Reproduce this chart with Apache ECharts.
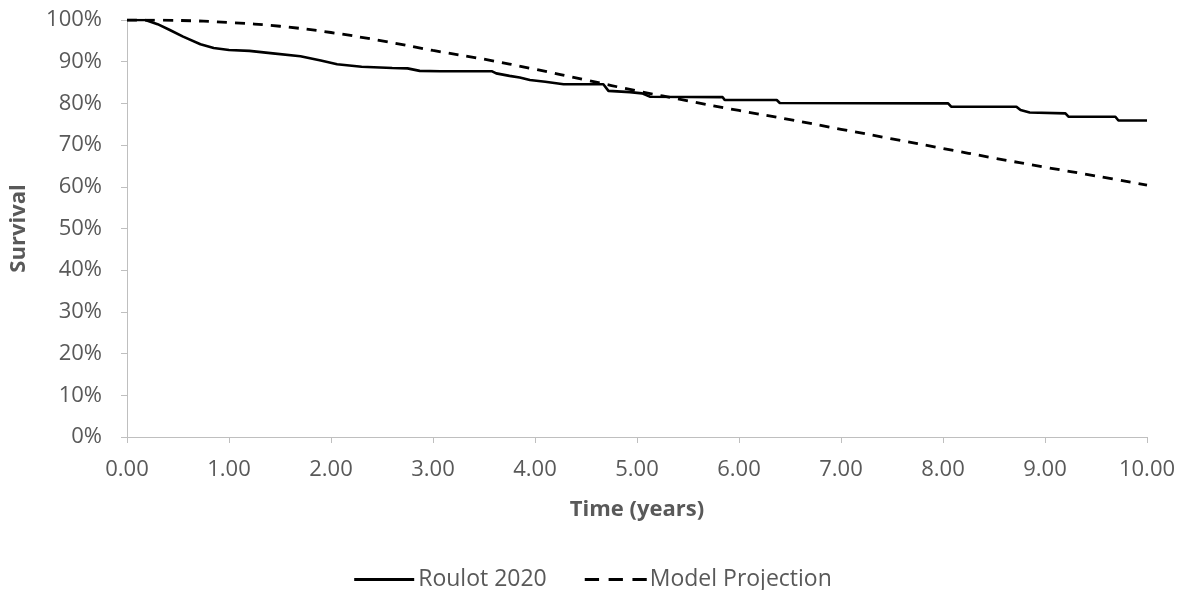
<!DOCTYPE html>
<html>
<head>
<meta charset="utf-8">
<script src="https://cdn.jsdelivr.net/npm/echarts@6/dist/echarts.min.js"></script>
<style>
  html, body { margin: 0; padding: 0; background: #fff; }
  #chart { width: 1186px; height: 590px; }
</style>
</head>
<body>
<div id="chart"></div>
<script>
// Kaplan-Meier survival, Roulot 2020 (time in years, survival in %)
const roulotTime = [0, 0.18, 0.3, 0.42, 0.55, 0.72, 0.85, 1.0, 1.2, 1.43, 1.7, 1.9, 2.06, 2.3, 2.6, 2.75, 2.87, 3.07, 3.58, 3.62, 3.75, 3.85, 3.95, 4.1, 4.28, 4.67, 4.72, 4.93, 5.05, 5.13, 5.84, 5.86, 6.37, 6.40, 8.05, 8.08, 8.72, 8.76, 8.85, 9.2, 9.23, 9.69, 9.72, 10.0];
const roulotSurvival = [100, 100, 99.0, 97.6, 96.0, 94.2, 93.3, 92.8, 92.6, 92.0, 91.3, 90.3, 89.4, 88.8, 88.5, 88.4, 87.8, 87.7, 87.7, 87.2, 86.6, 86.2, 85.6, 85.2, 84.6, 84.6, 83.0, 82.7, 82.4, 81.6, 81.5, 80.8, 80.8, 80.1, 80.0, 79.2, 79.2, 78.4, 77.8, 77.6, 76.8, 76.8, 75.9, 75.9];

// Model projection
const modelTime = [0, 0.5, 1, 1.5, 2, 2.5, 3, 3.5, 4, 4.5, 5, 5.5, 6, 6.5, 7, 7.5, 8, 8.5, 9, 9.5, 10];
const modelSurvival = [100, 99.9, 99.4, 98.5, 97.0, 95.0, 92.7, 90.6, 88.2, 85.6, 83.0, 80.6, 78.3, 76.1, 73.8, 71.5, 69.2, 66.9, 64.7, 62.6, 60.4];

const seriesNames = ['Roulot 2020', 'Model Projection'];
const xTitle = 'Time (years)';
const yTitle = 'Survival';

const FONT = '"Open Sans", "Noto Sans", sans-serif';
const TXT = '#595959';
const AXIS = '#bfbfbf';

// legend glyphs: a solid bar and a three-dash bar
const solidIcon = 'path://M0,0h60v3h-60z';
const dashIcon = 'path://M0,0h15v3h-15zM25,0h15v3h-15zM50,0h15v3h-15z';

const chart = echarts.init(document.getElementById('chart'), null, { renderer: 'canvas' });

chart.setOption({
  animation: false,
  backgroundColor: '#ffffff',
  textStyle: { fontFamily: FONT },
  grid: { left: 127, right: 39, top: 20, bottom: 153, outerBoundsMode: 'none', containLabel: false },
  legend: {
    top: 563,
    left: 'center',
    itemHeight: 3,
    itemGap: 38,
    textStyle: { fontFamily: FONT, fontSize: 23, color: TXT, padding: [0, 0, 0, -2] },
    data: [
      { name: seriesNames[0], icon: solidIcon, itemWidth: 60 },
      { name: seriesNames[1], icon: dashIcon, itemWidth: 65 }
    ],
    itemWidth: 62,
    itemStyle: { color: '#000000' }
  },
  xAxis: {
    type: 'value',
    min: 0,
    max: 10,
    interval: 1,
    name: xTitle,
    nameLocation: 'middle',
    nameGap: 62,
    nameTextStyle: { fontFamily: FONT, fontSize: 22, fontWeight: 'bold', color: TXT },
    axisLine: { show: true, lineStyle: { color: AXIS, width: 1 } },
    axisTick: { show: true, length: 6, lineStyle: { color: AXIS } },
    splitLine: { show: false },
    axisLabel: {
      fontFamily: FONT, fontSize: 22, color: TXT, margin: 22,
      formatter: v => v.toFixed(2)
    }
  },
  yAxis: {
    type: 'value',
    min: 0,
    max: 100,
    interval: 10,
    name: yTitle,
    nameLocation: 'middle',
    nameGap: 97,
    nameRotate: 90,
    nameTextStyle: { fontFamily: FONT, fontSize: 22, fontWeight: 'bold', color: TXT },
    axisLine: { show: true, lineStyle: { color: AXIS, width: 1 } },
    axisTick: { show: true, length: 6, lineStyle: { color: AXIS } },
    splitLine: { show: false },
    axisLabel: {
      fontFamily: FONT, fontSize: 22, color: TXT, margin: 25,
      formatter: '{value}%'
    }
  },
  series: [
    {
      name: seriesNames[0],
      type: 'line',
      symbol: 'none',
      showSymbol: false,
      itemStyle: { color: '#000000' },
      lineStyle: { color: '#000000', width: 2.6 },
      data: roulotTime.map((t, i) => [t, roulotSurvival[i]])
    },
    {
      name: seriesNames[1],
      type: 'line',
      symbol: 'none',
      showSymbol: false,
      smooth: 0.4,
      itemStyle: { color: '#000000' },
      lineStyle: { color: '#000000', width: 2.8, type: [10, 8] },
      data: modelTime.map((t, i) => [t, modelSurvival[i]])
    }
  ]
});
</script>
</body>
</html>
